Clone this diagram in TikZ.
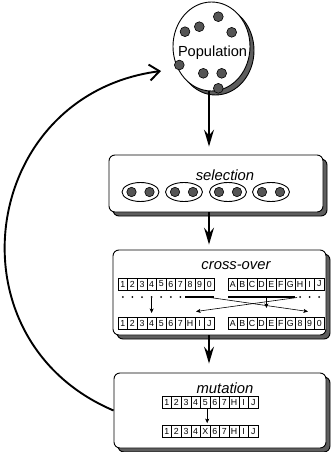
\documentclass[tikz,border=0pt]{standalone}
\usepackage{fontspec}
\setmainfont{Liberation Sans}
\usetikzlibrary{arrows.meta,shadows,shapes.geometric}
\definecolor{shgray}{HTML}{5E5E5E}
\definecolor{dotgray}{HTML}{555555}
\newcommand{\chromo}[4]{\foreach \t [count=\i] in {#4} \node[cell] (#1-\i) at ({#2+(\i-0.5)*9.6},#3) {\t};}
\begin{document}
\begin{tikzpicture}[x=1pt,y=-1pt,
  stage/.style={draw=black, line width=0.9pt, fill=white, rounded corners=6pt, inner sep=0pt,
    drop shadow={shadow xshift=4pt, shadow yshift=-4pt, fill=shgray, draw=black, opacity=1}},
  popshape/.style={ellipse, draw=black, line width=0.9pt, fill=white, inner sep=0pt,
    minimum width=77pt, minimum height=89pt,
    drop shadow={shadow xshift=4pt, shadow yshift=-4pt, fill=shgray, draw=black, opacity=1}},
  title/.style={font=\itshape\fontsize{14.8}{16}\selectfont, inner sep=0pt},
  poptext/.style={font=\fontsize{14.6}{16}\selectfont, inner sep=0pt},
  dot/.style={fill=dotgray, draw=black, line width=0.6pt},
  pair/.style={ellipse, draw=black, line width=0.9pt, minimum width=37pt, minimum height=19pt, inner sep=0pt},
  cell/.style={draw=black, line width=0.6pt, minimum width=9.6pt, minimum height=12pt, inner sep=0pt,
    font=\fontsize{8.8}{8.8}\selectfont},
  flow/.style={line width=1.6pt, -{Stealth[length=17pt,width=10pt,inset=6pt]}},
  small/.style={line width=0.6pt, -{Stealth[length=4.5pt,width=4pt,inset=1pt]}},
  feedback/.style={line width=1.9pt, -{Straight Barb[length=10pt,width=16pt]}},
  thick bar/.style={line width=1.8pt}
]
\useasboundingbox (0,0) rectangle (331,452);

% population
\node[popshape] (pop) at (211.5,46.5) {};
\foreach \p in {(218.3,16.7),(199.3,26.7),(185,31.7),(231.7,32.3),(179.3,65),(203.3,73.3),(221.7,73.3),(218.3,88.3)}
  \filldraw[dot] \p circle (4.9pt);
\node[poptext] (popt) at (212.5,52.5) {Population};

% selection
\node[stage, minimum width=214pt, minimum height=57pt] (sel) at (216,183.5) {};
\node[title] (selt) at (225,175.7) {selection};
\foreach \c [count=\k] in {140.5,184,228,271} {
  \node[pair] (e\k) at (\c,192) {};
  \filldraw[dot] (\c-9,192) circle (4.7pt);
  \filldraw[dot] (\c+9,192) circle (4.7pt);
}

% cross-over
\node[stage, minimum width=213pt, minimum height=85pt] (cross) at (219.5,292.5) {};
\node[title] (crosst) at (236,266) {cross-over};
\chromo{cl1}{118}{284}{1,2,3,4,5,6,7,8,9,0}
\chromo{cr1}{228}{284}{A,B,C,D,E,F,G,H,I,J}
\chromo{cl2}{118}{323.5}{1,2,3,4,5,6,7,H,I,J}
\chromo{cr2}{228}{323.5}{A,B,C,D,E,F,G,8,9,0}
\foreach \i in {1,...,7} \fill ({118+(\i-0.5)*9.6},297) circle (1pt);
\foreach \i in {8,9,10} \fill ({228+(\i-0.5)*9.6},297) circle (1pt);
\draw[thick bar] (185.2,297) -- (214,297);
\draw[thick bar] (228,297) -- (295.2,297);
\coordinate (la0) at (151.6,298);
\coordinate (la1) at (151.6,313);
\coordinate (ca0) at (266.4,297);
\coordinate (ca1) at (266.4,308);
\coordinate (ax0) at (210,297.5);
\coordinate (ax1) at (308,311.5);
\coordinate (bx0) at (297,297.5);
\coordinate (bx1) at (196,311.5);
\draw[small] (la0) -- (la1);
\draw[small] (ca0) -- (ca1);
\draw[small] (ax0) -- (ax1);
\draw[small] (bx0) -- (bx1);

% mutation
\node[stage, minimum width=212pt, minimum height=75pt] (mut) at (220,410.5) {};
\node[title] (mutt) at (225,388) {mutation};
\chromo{mt}{162}{402.5}{1,2,3,4,5,6,7,H,I,J}
\chromo{mb}{162}{431.5}{1,2,3,4,X,6,7,H,I,J}
\draw[small, shorten >=2pt] ([xshift=2pt]mt-5.south) -- ([xshift=2pt]mb-5.north);

% flow arrows
\coordinate (col) at (209,0);
\draw[flow, shorten >=8pt] (pop.south -| col) -- (sel.north -| col);
\draw[flow, shorten >=5pt] (sel.south -| col) -- (cross.north -| col);
\draw[flow, shorten >=9pt] (cross.south -| col) -- (mut.north -| col);

% feedback
\coordinate (fbtip) at (161,71);
\draw[feedback] (mut.west) to[out=157,in=187.5,looseness=1.36] (fbtip);
\end{tikzpicture}
\end{document}
